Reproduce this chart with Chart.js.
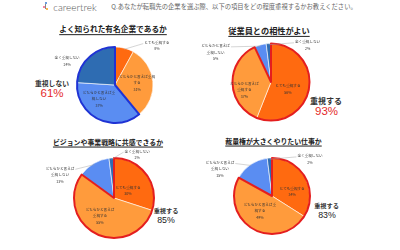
<!DOCTYPE html>
<html><head><meta charset="utf-8">
<script src="https://cdn.jsdelivr.net/npm/chart.js@4"></script>
<style>
html,body{margin:0;padding:0;background:#fff;}
body{width:400px;height:250px;position:relative;overflow:hidden;font-family:"Noto Sans CJK JP","Noto Sans",sans-serif;}
canvas{position:absolute;}
.t{position:absolute;white-space:nowrap;transform:translate(-50%,-50%);line-height:1;}
.title{font-weight:bold;color:#222;text-decoration:underline;text-underline-offset:1.5px;text-decoration-thickness:0.7px;}
.sum{font-weight:bold;color:#333;}
.pct{font-family:"Liberation Sans","Noto Sans",sans-serif;}
</style></head>
<body>
<div style="position:absolute;left:43px;top:2px;width:6px;height:9px;">
  <span style="position:absolute;left:2px;top:0;width:2px;height:2px;border-radius:1px;background:#3a7bd5"></span>
  <span style="position:absolute;left:0;top:4px;width:2px;height:2px;border-radius:1px;background:#f05a7e"></span>
  <span style="position:absolute;left:3px;top:6px;width:2px;height:2px;border-radius:1px;background:#f7a21b"></span>
  <span style="position:absolute;left:2px;top:2px;width:1px;height:5px;background:#888"></span>
</div>
<div class="t" style="left:75px;top:7px;font-family:Lato,'Open Sans',sans-serif;font-weight:300;font-size:10px;color:#555;">careertrek</div>
<div class="t" style="left:234px;top:7px;font-size:6.3px;color:#666;">Q.あなたが転職先の企業を選ぶ際、以下の項目をどの程度重視するかお教えください。</div>
<div id="overlay"></div>
<canvas id="c0"></canvas><canvas id="c1"></canvas><canvas id="c2"></canvas><canvas id="c3"></canvas>
<script>
// ---- data ----
const categories = ["とても重視する","どちらかと言えば重視する","どちらかと言えば重視しない","全く重視しない"];
const chartTitles = ["よく知られた有名企業であるか","従業員との相性がよい","ビジョンや事業戦略に共感できるか","裁量権が大きくやりたい仕事か"];
const seriesFamous = [8,31,37,24];
const seriesColleagues = [56,37,5,2];
const seriesVision = [30,55,13,2];
const seriesDiscretion = [34,49,15,2];
const summaryLabels = ["重視しない","重視する","重視する","重視する"];
const summaryValues = [61,93,85,83];
const highlightGroups = [[2,3],[0,1],[0,1],[0,1]];

// ---- styles / layout ----
const sliceColors = ["#FF6A10","#FF9B3C","#5A8DF2","#2E6CB2"];
const allSeries = [seriesFamous,seriesColleagues,seriesVision,seriesDiscretion];
const layouts = [
  {box:{x:0,y:20,w:200,h:112}, c:[115,85], r:38, hl:"#1F33D4",
   title:{x:113,y:29,fs:7.7}, sum:{x:52,y:83,fs:6.8,px:52,py:94,pfs:11.5,pc:"#E42A2A"},
   labels:[{dx:1.1,dy:-1.03,wrap:20,leader:true},{dx:0.58,dy:-0.05,wrap:10},{dx:-0.42,dy:0.37,wrap:9},{dx:-1.26,dy:-0.63,wrap:20}]},
  {box:{x:200,y:20,w:200,h:112}, c:[271,82], r:38.5, hl:"#E41E1E",
   title:{x:269,y:30,fs:8.2}, sum:{x:326,y:101,fs:8,px:326.5,py:112,pfs:11.5,pc:"#E42A2A"},
   labels:[{dx:0.44,dy:0.19,wrap:20},{dx:-0.69,dy:0.2,wrap:8},{dx:-1.44,dy:-0.77,wrap:8,leader:true},{dx:0.95,dy:-0.96,wrap:20,leader:true}]},
  {box:{x:0,y:132,w:200,h:118}, c:[114,198], r:40, hl:"#E41E1E",
   title:{x:108,y:142,fs:6.9}, sum:{x:166,y:211,fs:6.2,px:166,py:219.5,pfs:8.8,pc:"#222"},
   labels:[{dx:0.35,dy:-0.19,wrap:20},{dx:-0.35,dy:0.45,wrap:8},{dx:-1.35,dy:-0.58,wrap:8,leader:true},{dx:0.58,dy:-1.09,wrap:20,leader:true}]},
  {box:{x:200,y:132,w:200,h:118}, c:[272,196], r:38, hl:"#E41E1E",
   title:{x:273.5,y:141,fs:6.9}, sum:{x:326.5,y:206,fs:6.2,px:327,py:214.5,pfs:8.8,pc:"#222"},
   labels:[{dx:0.53,dy:-0.12,wrap:20},{dx:-0.32,dy:0.39,wrap:9},{dx:-1.37,dy:-0.71,wrap:8,leader:true},{dx:1.0,dy:-0.97,wrap:20,leader:true}]}
];
const BW = 0.6;
const LABEL_FONT = '3.6px "Noto Sans CJK JP"';
const LINE_H = 6.5;

const overlay = document.getElementById('overlay');
function addText(cls, txt, x, y, fs, color){
  const d=document.createElement('div'); d.className='t '+cls; d.textContent=txt;
  d.style.left=x+'px'; d.style.top=y+'px'; d.style.fontSize=fs+'px'; if(color) d.style.color=color;
  overlay.appendChild(d);
}
function wrapText(s,n){const out=[];for(let i=0;i<s.length;i+=n)out.push(s.slice(i,i+n));return out;}

const annotPlugin = {
  id:'annot',
  afterDatasetsDraw(chart, args, opts){
    const L = opts.layout; const ctx = chart.ctx;
    const meta = chart.getDatasetMeta(0); const arcs = meta.data;
    const vals = chart.data.datasets[0].data;
    // highlight border around group
    const g = opts.group;
    const a0 = arcs[g[0]], a1 = arcs[g[g.length-1]];
    ctx.save();
    ctx.beginPath();
    ctx.moveTo(a0.x,a0.y);
    ctx.arc(a0.x,a0.y,a0.outerRadius,a0.startAngle,a1.endAngle);
    ctx.closePath();
    ctx.lineWidth=2; ctx.strokeStyle=L.hl; ctx.lineJoin='round'; ctx.stroke();
    ctx.restore();
    // slice labels
    ctx.save();
    ctx.font = LABEL_FONT; ctx.fillStyle='#333'; ctx.textAlign='center'; ctx.textBaseline='middle';
    arcs.forEach((a,i)=>{
      const cfg = L.labels[i]; const R = a.outerRadius;
      const lines = wrapText(chart.data.labels[i], cfg.wrap).concat([vals[i]+'%']);
      const cx = a.x + cfg.dx*R, cy = a.y + cfg.dy*R;
      const y0 = cy - (lines.length-1)*LINE_H/2;
      let maxW = 0;
      lines.forEach((ln,k)=>{ctx.fillText(ln,cx,y0+k*LINE_H); maxW=Math.max(maxW,ctx.measureText(ln).width);});
      if(cfg.leader){
        const mid=(a.startAngle+a.endAngle)/2;
        const sx=a.x+Math.cos(mid)*R*0.97, sy=a.y+Math.sin(mid)*R*0.97;
        const side = cx > a.x ? -1 : 1;
        const ex = cx + side*(maxW/2+1), ey = y0 + 1;
        ctx.beginPath(); ctx.moveTo(sx,sy); ctx.lineTo(ex,ey);
        ctx.strokeStyle='#aaa'; ctx.lineWidth=0.5; ctx.stroke();
      }
    });
    ctx.restore();
  }
};

layouts.forEach((L,idx)=>{
  const cv = document.getElementById('c'+idx);
  cv.width=L.box.w; cv.height=L.box.h;
  cv.style.left=L.box.x+'px'; cv.style.top=L.box.y+'px';
  cv.style.width=L.box.w+'px'; cv.style.height=L.box.h+'px';
  const half = L.r + BW/2;
  const pad = {
    left: L.c[0]-L.box.x-half, top: L.c[1]-L.box.y-half,
    right: L.box.x+L.box.w-(L.c[0]+half), bottom: L.box.y+L.box.h-(L.c[1]+half)
  };
  new Chart(cv,{
    type:'pie',
    data:{labels:categories, datasets:[{data:allSeries[idx], backgroundColor:sliceColors, borderColor:'#ffffff', borderWidth:BW}]},
    options:{
      responsive:false, animation:false, devicePixelRatio:1,
      layout:{padding:pad},
      plugins:{legend:{display:false}, tooltip:{enabled:false}, annot:{layout:L, group:highlightGroups[idx]}}
    },
    plugins:[annotPlugin]
  });
  addText('title', chartTitles[idx], L.title.x, L.title.y, L.title.fs);
  addText('sum', summaryLabels[idx], L.sum.x, L.sum.y, L.sum.fs);
  addText('pct', summaryValues[idx]+'%', L.sum.px, L.sum.py, L.sum.pfs, L.sum.pc);
});
</script>
</body></html>
